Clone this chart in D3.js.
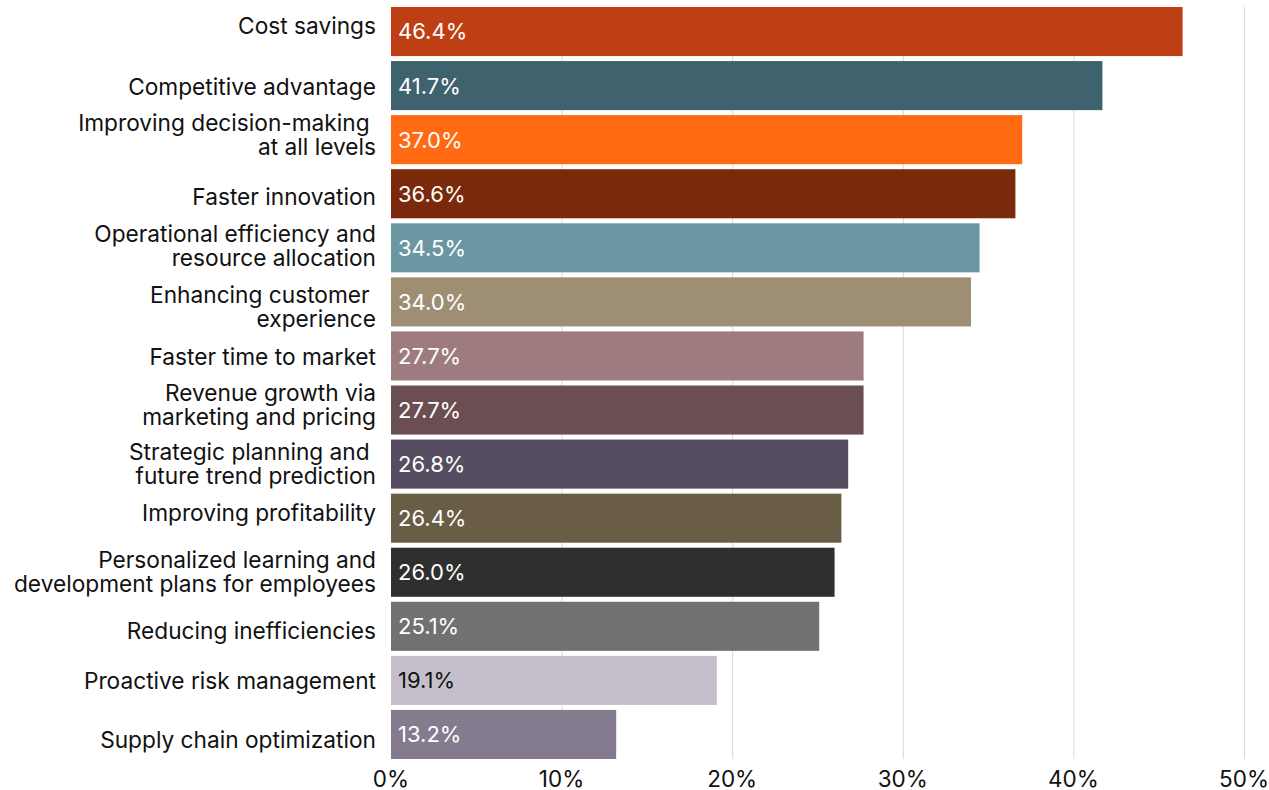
<!DOCTYPE html>
<html><head><meta charset="utf-8">
<script src="https://cdn.jsdelivr.net/npm/d3@7"></script>
<style>body{margin:0;background:#fff;}svg{display:block;font-family:Inter,"Noto Sans",sans-serif;}</style>
</head><body>
<svg id="c" width="1269" height="790"></svg>
<script>
const categories = [
  ["Cost savings"],
  ["Competitive advantage"],
  ["Improving decision-making ", "at all levels"],
  ["Faster innovation"],
  ["Operational efficiency and", "resource allocation"],
  ["Enhancing customer ", "experience"],
  ["Faster time to market"],
  ["Revenue growth via", "marketing and pricing"],
  ["Strategic planning and ", "future trend prediction"],
  ["Improving profitability"],
  ["Personalized learning and", "development plans for employees"],
  ["Reducing inefficiencies"],
  ["Proactive risk management"],
  ["Supply chain optimization"]
];
const values = [46.4, 41.7, 37.0, 36.6, 34.5, 34.0, 27.7, 27.7, 26.8, 26.4, 26.0, 25.1, 19.1, 13.2];
const colors = ["#BF3F14","#3E626E","#FF6A13","#7A2A0B","#6B97A3","#9E8F74","#9E7B7E","#6B4E52","#564E60","#6A5D45","#2F2F2F","#717171","#C5BFCC","#857B8E"];
const labelColors = ["#fff","#fff","#fff","#fff","#fff","#fff","#fff","#fff","#fff","#fff","#fff","#fff","#111","#fff"];
const ticks = [0, 10, 20, 30, 40, 50];
// small vertical nudges of category labels relative to their bar centre (layout only)
const labelNudge = [-5.5, 0.8, -4.5, 3.5, -1.8, 5.3, 0.8, -4.8, -0.3, -5.5, -0.7, 4.2, 0.5, 5.6];

const svg = d3.select("#c");
const x = d3.scaleLinear().domain([0, 50]).range([391, 1244]);
const idx = d3.range(values.length);
const y = d3.scaleBand().domain(idx).range([7, 759]).paddingInner(5/54).paddingOuter(0);
const yc = i => y(i) + y.bandwidth() / 2;

// gridlines
svg.append("g").selectAll("line").data(ticks.filter(t => t > 0)).join("line")
  .attr("x1", d => x(d) + 0.5).attr("x2", d => x(d) + 0.5)
  .attr("y1", y(0)).attr("y2", y(values.length - 1) + y.bandwidth())
  .attr("stroke", "#d9d9d9").attr("stroke-width", 1);

// bars
svg.append("g").selectAll("rect").data(idx).join("rect")
  .attr("x", x(0)).attr("y", i => y(i))
  .attr("width", i => x(values[i]) - x(0)).attr("height", y.bandwidth())
  .attr("fill", i => colors[i]);

// value labels
svg.append("g").selectAll("text").data(idx).join("text")
  .attr("x", x(0) + 7).attr("y", i => yc(i))
  .attr("dy", "0.36em").attr("font-size", 22)
  .attr("fill", i => labelColors[i])
  .text(i => values[i].toFixed(1) + "%");

// category labels
const cl = svg.append("g").selectAll("text").data(idx).join("text")
  .attr("text-anchor", "end").attr("font-size", 22.7).attr("fill", "#111")
  .attr("x", 376);
cl.each(function(i) {
  const lines = categories[i];
  const n = lines.length;
  d3.select(this).selectAll("tspan").data(lines).join("tspan")
    .attr("x", 376)
    .attr("y", (d, k) => yc(i) + labelNudge[i] + (k - (n - 1) / 2) * 24)
    .attr("dy", "0.36em")
    .attr("xml:space", "preserve")
    .text(d => d);
});

// x axis tick labels
svg.append("g").selectAll("text").data(ticks).join("text")
  .attr("x", d => x(d)).attr("y", 779).attr("dy", "0.36em")
  .attr("text-anchor", "middle").attr("font-size", 22.5).attr("fill", "#111")
  .text(d => d + "%");
</script>
</body></html>
